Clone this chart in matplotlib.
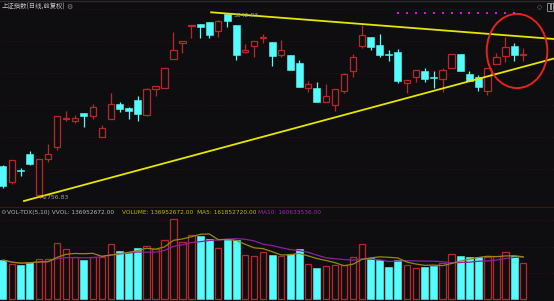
import numpy as np
import pandas as pd
import matplotlib
matplotlib.use('Agg')
import matplotlib.pyplot as plt
from matplotlib.patches import Ellipse, Rectangle
from matplotlib.lines import Line2D

plt.rcParams['font.family'] = ['Noto Sans CJK SC', 'DejaVu Sans']

# ---------------- data ----------------
opens = [2805, 2780, 2799, 2824, 2760, 2816, 2835, 2879, 2875, 2888,
         2884, 2850, 2878, 2902, 2896, 2908, 2885, 2925, 2927, 2972,
         2997, 3024, 3028, 3031, 3017, 3042.5, 3025, 2984, 2993, 3005,
         2999, 2979, 2979, 2966, 2928, 2928, 2905, 2901, 2923, 2954,
         2993, 3007, 2994, 2980, 2984, 2935, 2945, 2954, 2944, 2941,
         2958, 2980, 2949, 2944, 2923, 2964, 2978, 2993, 2979]
highs = [2807, 2815, 2802, 2829, 2816, 2840, 2883, 2891, 2885, 2888,
         2902, 2869, 2919, 2905, 2898, 2915, 2928, 2930, 2958, 3015,
         3000, 3025, 3028, 3031, 3034, 3042.93, 3025, 2996, 3000, 3012,
         2999, 3002, 2979, 2971, 2938, 2937, 2933, 2925, 2950, 2981,
         3026, 3007, 3012, 2987, 2988, 2940, 2955, 2959, 2954, 2958,
         2980, 2980, 2954, 2947, 2959, 2982, 3007, 2997, 2990]
lows = [2771, 2777, 2790, 2807, 2756.83, 2812, 2830, 2875, 2873, 2867,
        2878, 2850, 2878, 2890, 2878, 2875, 2883, 2915, 2927, 2972,
        2982, 3006, 3006, 3005, 3007, 3022, 2971, 2982, 2976, 2997,
        2961, 2975, 2955, 2929, 2921, 2905, 2905, 2892, 2919, 2944,
        2990, 2987, 2976, 2970, 2935, 2919, 2936, 2936, 2928, 2921,
        2958, 2954, 2938, 2923, 2917, 2964, 2968, 2970, 2969]
closes = [2774, 2815, 2797, 2808, 2816, 2824, 2883, 2880, 2881, 2883,
          2898, 2864, 2902, 2894, 2891, 2887, 2925, 2930, 2958, 2987,
          3000, 3025, 3022, 3010, 3032, 3032, 2979, 2986, 3000, 3007,
          2978, 2987, 2955, 2929, 2933, 2905, 2914, 2925, 2949, 2975,
          3010, 2992, 2979, 2979, 2938, 2940, 2955, 2942, 2943, 2955,
          2980, 2954, 2938, 2929, 2959, 2975, 2992, 2979, 2980]
# volume in millions of shares
volumes_m = [149.4, 133.2, 130.5, 143.0, 154.3, 152.1, 214.9, 189.9, 159.6, 149.4,
             159.6, 159.6, 210.0, 183.5, 178.6, 193.7, 203.5, 192.9, 225.1, 304.5,
             219.4, 244.0, 241.4, 230.0, 196.7, 225.1, 225.1, 167.2, 163.4, 180.8,
             168.3, 162.7, 171.0, 189.9, 133.2, 117.3, 126.7, 130.5, 130.5, 161.9,
             209.2, 155.9, 149.4, 122.2, 149.4, 132.4, 118.4, 124.1, 127.5, 138.1,
             173.3, 165.3, 159.6, 159.6, 159.6, 165.7, 178.6, 165.7, 136.952672]

title_text = "上证指数(日线,前复权)"
high_label = "3042.93"
low_label = "←2756.83"
vol_label_1 = "VOL-TDX(5,10) VVOL: 136952672.00"
vol_label_2 = "VOLUME: 136952672.00"
vol_label_3 = "MA5: 161852720.00"
vol_label_4 = "MA10: 160633536.00"

# hand-drawn trend lines (candle index, price)
upper_trend_x = [23.2, 61.43]
upper_trend_y = [3045.6, 3003.85]
lower_trend_x = [2.34, 61.43]
lower_trend_y = [2750.6, 2973.4]
# marker circle (center index, center price, width idx, height price)
circle_center = (57.3, 2985.1)
circle_size = (6.76, 116.0)
# magenta signal dots
dot_idx = list(range(44, 58))
dot_price = 3045.0

price_grid = [2800, 2850, 2900, 2950, 3000, 3050]
vol_grid_m = [100, 200, 300]

# ---------------- style ----------------
BG = '#0e0e10'
CYAN = '#54fcfc'
RED = '#b82828'
YELLOW = '#e6e600'
MA5C = '#9a8614'
MA10C = '#8e1e9e'
GRID = '#3e0e0e'
W_PX = 554
H_PX = 301

o = np.array(opens, float)
h = np.array(highs, float)
l = np.array(lows, float)
c = np.array(closes, float)
v = np.array(volumes_m) * 1e6
n = len(o)
x = np.arange(n)
up = c >= o

fig = plt.figure(figsize=(W_PX / 100, H_PX / 100), dpi=100)
fig.patch.set_facecolor(BG)

main_h = 207
ax = fig.add_axes([0, 1 - main_h / H_PX, 1, main_h / H_PX])
axv = fig.add_axes([0, 0, 1, (H_PX - main_h) / H_PX])
for a in (ax, axv):
    a.set_facecolor(BG)
    for s in a.spines.values():
        s.set_visible(False)
    a.set_xticks([])
    a.set_yticks([])
    a.set_xlim(-0.334, 61.42)

ax.set_ylim(2741.2, 3064.82)
axv.set_ylim(-5.7e6, 350e6)

for g in price_grid:
    ax.axhline(g, color=GRID, lw=0.6, ls=(0, (1, 2)), zorder=0)
for g in vol_grid_m:
    axv.axhline(g * 1e6, color=GRID, lw=0.6, ls=(0, (1, 2)), zorder=0)

# candles
bb = np.minimum(o, c)
bt = np.maximum(o, c)
bh = np.maximum(bt - bb, 0.9)
dn = ~up
ax.vlines(x[dn], l[dn], h[dn], color=CYAN, lw=0.9, zorder=2)
ax.bar(x[dn], bh[dn], bottom=bb[dn], width=0.78, color=CYAN, edgecolor=CYAN, lw=0.4, zorder=3)
ax.vlines(x[up], bt[up], h[up], color=RED, lw=0.9, zorder=2)
ax.vlines(x[up], l[up], bb[up], color=RED, lw=0.9, zorder=2)
ax.bar(x[up], bh[up], bottom=bb[up], width=0.7, facecolor=BG, edgecolor=RED, lw=0.9, zorder=3)

# trend lines & annotations
ax.plot(upper_trend_x, upper_trend_y, color=YELLOW, lw=1.3, zorder=4)
ax.plot(lower_trend_x, lower_trend_y, color=YELLOW, lw=1.3, zorder=4)
ax.add_patch(Ellipse(circle_center, circle_size[0], circle_size[1], facecolor='none',
                     edgecolor='#e4241c', lw=1.4, zorder=5))
ax.scatter(dot_idx, [dot_price] * len(dot_idx), marker='s', s=2.2, color='#e010e0',
           linewidths=0, zorder=5)

ax.text(25.75, 3040.0, high_label, color='#a0a0a0', fontsize=4.4, va='center', ha='left',
        family='DejaVu Sans', zorder=6)
ax.text(4.0, 2756.0, low_label, color='#a0a0a0', fontsize=4.4, va='center', ha='left',
        family='DejaVu Sans', zorder=6)

# volume
axv.bar(x[dn], v[dn], width=0.78, color=CYAN, edgecolor=CYAN, lw=0.4, zorder=2)
axv.bar(x[up], v[up], width=0.7, facecolor=BG, edgecolor=RED, lw=0.9, zorder=2)
ma5 = pd.Series(v).rolling(5, min_periods=1).mean()
ma10 = pd.Series(v).rolling(10, min_periods=1).mean()
axv.plot(x, ma10, color=MA10C, lw=0.9, zorder=3)
axv.plot(x, ma5, color=MA5C, lw=0.9, zorder=4)

def fx(px):
    return px / W_PX

def fy(py):
    return 1 - py / H_PX

# separators
fig.add_artist(Line2D([0, 1], [fy(207), fy(207)], color='#4a1010', lw=0.8))
fig.add_artist(Line2D([0, 1], [fy(0.6), fy(0.6)], color='#2c2c2c', lw=1.0))

# header texts
fig.text(fx(1.5), fy(6.5), title_text, color='#c4c4c4', fontsize=4.6, va='center', ha='left')
fig.text(fx(66.5), fy(6.7), '⚙', color='#8a8a8a', fontsize=5.0, va='center', ha='left',
         family='DejaVu Sans')
fig.text(fx(537), fy(6.7), '◇', color='#7a7a7a', fontsize=5.0, va='center', ha='left',
         family='DejaVu Sans')
fig.add_artist(Rectangle((fx(546.5), fy(10.5)), fx(6), (10.5 - 3) / H_PX, transform=fig.transFigure,
                         facecolor='none', edgecolor='#8a8a8a', lw=0.7))
fig.add_artist(Rectangle((fx(549.5), fy(9.5)), fx(2), (9.5 - 4) / H_PX, transform=fig.transFigure,
                         facecolor='#8a8a8a', edgecolor='none'))

fig.text(fx(0), fy(212.3), '⚙', color='#8a8a8a', fontsize=4.6, va='center', ha='left',
         family='DejaVu Sans')
fig.text(fx(7.3), fy(212.3), vol_label_1, color='#b4b4b4', fontsize=4.2, va='center', ha='left',
         family='DejaVu Sans')
fig.text(fx(121.7), fy(212.3), vol_label_2, color='#c8b400', fontsize=4.2, va='center', ha='left',
         family='DejaVu Sans')
fig.text(fx(196.7), fy(212.3), vol_label_3, color='#c8b400', fontsize=4.2, va='center', ha='left',
         family='DejaVu Sans')
fig.text(fx(258.3), fy(212.3), vol_label_4, color='#a028b0', fontsize=4.2, va='center', ha='left',
         family='DejaVu Sans')

fig.savefig('out.png', dpi=100, facecolor=BG)
